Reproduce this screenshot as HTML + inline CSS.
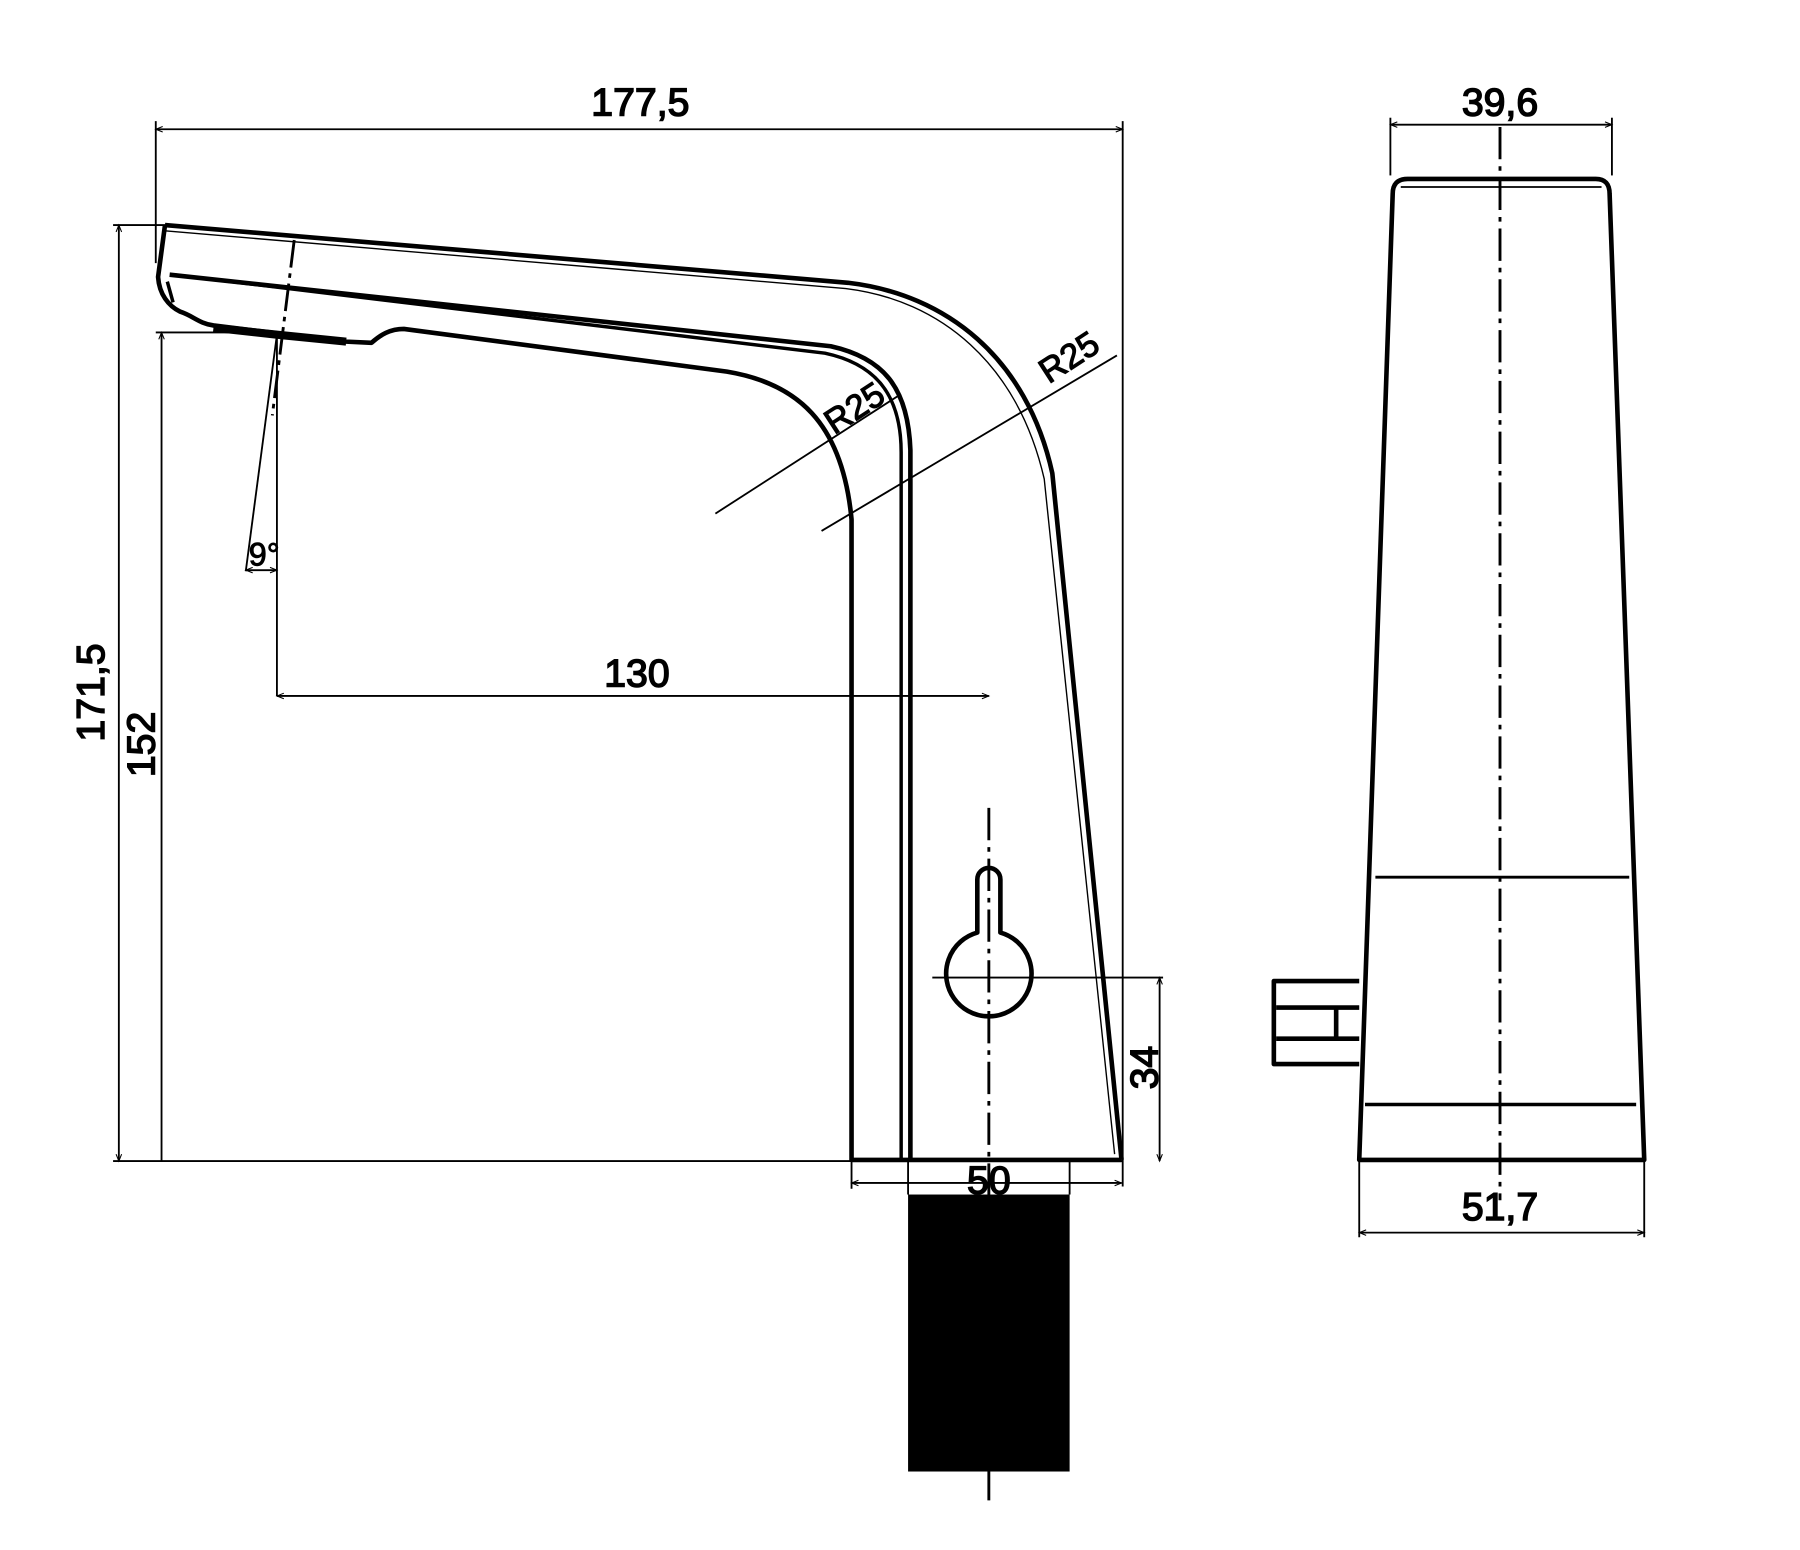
<!DOCTYPE html>
<html><head><style>html,body{margin:0;padding:0;background:#fff;}svg{display:block}</style></head>
<body>
<svg width="1800" height="1550" viewBox="0 0 1560 1343" preserveAspectRatio="none" xmlns="http://www.w3.org/2000/svg">
<defs>
<marker id="a" viewBox="0 0 10 10" refX="10" refY="5" markerWidth="10" markerHeight="6" orient="auto-start-reverse" markerUnits="userSpaceOnUse"><path d="M0,1 L10,5 L0,9" fill="none" stroke="#000" stroke-width="1.5"/></marker>
</defs>
<g font-family="Liberation Sans, sans-serif" font-size="34" fill="#000" stroke="#000" stroke-width="1.3">
<text x="555" y="100" text-anchor="middle">177,5</text>
<text x="1300" y="100" text-anchor="middle">39,6</text>
<text x="1300" y="1057" text-anchor="middle">51,7</text>
<text x="552" y="595" text-anchor="middle">130</text>
<text x="857" y="1034" text-anchor="middle">50</text>
<text x="229" y="490" text-anchor="middle" font-size="28" stroke-width="0.8">9°</text>
<text transform="translate(90,600) rotate(-90)" text-anchor="middle">171,5</text>
<text transform="translate(134,645) rotate(-90)" text-anchor="middle">152</text>
<text transform="translate(1003,925) rotate(-90)" text-anchor="middle">34</text>
<text transform="translate(746,362) rotate(-33)" text-anchor="middle" font-size="30" stroke-width="1">R25</text>
<text transform="translate(932,318) rotate(-33)" text-anchor="middle" font-size="30" stroke-width="1">R25</text>
</g>
<g fill="none" stroke="#000" stroke-width="1.6">
<line x1="135" y1="112" x2="973" y2="112" marker-start="url(#a)" marker-end="url(#a)"/>
<line x1="135" y1="105" x2="135" y2="228"/>
<line x1="973" y1="105" x2="973" y2="1028"/>
<line x1="103" y1="195" x2="103" y2="1006" marker-start="url(#a)" marker-end="url(#a)"/>
<line x1="98" y1="195" x2="145" y2="195"/>
<line x1="98" y1="1006" x2="973" y2="1006"/>
<line x1="140" y1="288" x2="140" y2="1006" marker-start="url(#a)"/>
<line x1="135" y1="288" x2="240" y2="288"/>
<line x1="240" y1="288" x2="240" y2="603"/>
<line x1="240" y1="603" x2="857" y2="603" marker-start="url(#a)" marker-end="url(#a)"/>
<line x1="240" y1="290" x2="213" y2="495"/>
<line x1="213" y1="494" x2="240" y2="494" marker-start="url(#a)" marker-end="url(#a)"/>
<line x1="738" y1="1025" x2="972" y2="1025" marker-start="url(#a)" marker-end="url(#a)"/>
<line x1="738" y1="1005" x2="738" y2="1030"/>
<line x1="787" y1="1005" x2="787" y2="1035"/>
<line x1="927" y1="1005" x2="927" y2="1035"/>
<line x1="808" y1="847" x2="1008" y2="847"/>
<line x1="1005" y1="847" x2="1005" y2="1006" marker-start="url(#a)" marker-end="url(#a)"/>
<line x1="620" y1="445" x2="780" y2="342"/>
<line x1="712" y1="460" x2="968" y2="308"/>
<line x1="1205" y1="108" x2="1397" y2="108" marker-start="url(#a)" marker-end="url(#a)"/>
<line x1="1205" y1="102" x2="1205" y2="152"/>
<line x1="1397" y1="102" x2="1397" y2="152"/>
<line x1="1178" y1="1068" x2="1425" y2="1068" marker-start="url(#a)" marker-end="url(#a)"/>
<line x1="1178" y1="1005" x2="1178" y2="1072"/>
<line x1="1425" y1="1005" x2="1425" y2="1072"/>
<line x1="857" y1="700" x2="857" y2="1305" stroke-dasharray="28,6,4,6" stroke-width="2.5"/>
<line x1="1300" y1="110" x2="1300" y2="1040" stroke-dasharray="28,6,4,6" stroke-width="2.5"/>
<line x1="255" y1="208" x2="236" y2="360" stroke-dasharray="24,5,4,5" stroke-width="2.5"/>
</g>
<g fill="none" stroke="#000" stroke-width="4" stroke-linejoin="round">
<path d="M143,195 L735,245 C820,255 890,310 912,410 L972,1005"/>
<path d="M143,200 L733,250 C815,260 882,315 905,415 L966,1000" stroke-width="1.2"/>
<path d="M143,195 L137,240 C138,255 146,265 156,270 C168,274 172,280 185,282 L300,296 L322,297 C330,290 338,285 350,285 L630,322 C690,332 730,365 738,450 L738,1005 L972,1005"/>
<path d="M147,238 L720,300 C765,310 787,335 789,390 L789,1005"/>
<path d="M145,244 L150,262 M150,238 L715,306 C757,315 781,340 781,392 L781,1005" stroke-width="3"/>
<path d="M185,284 L240,290 L300,296" stroke-width="7"/>
<path d="M847,808 L847,762 A10,10 0 0 1 867,762 L867,808 A37,37 0 1 1 847,808 Z"/>
<path d="M1207,168 Q1207,155 1220,155 L1383,155 Q1395,155 1395,168 L1425,1005 L1178,1005 Z"/>
<path d="M1214,162 L1388,162" stroke-width="1.5"/>
<line x1="1192" y1="760" x2="1412" y2="760" stroke-width="2.5"/>
<line x1="1183" y1="957" x2="1418" y2="957" stroke-width="3"/>
<path d="M1178,850 L1104,850 L1104,922 L1178,922"/>
<path d="M1106,873 L1178,873 M1106,900 L1178,900 M1158,873 L1158,900"/>
</g>
<rect x="787" y="1035" width="140" height="240" fill="#000"/>
</svg>
</body></html>
